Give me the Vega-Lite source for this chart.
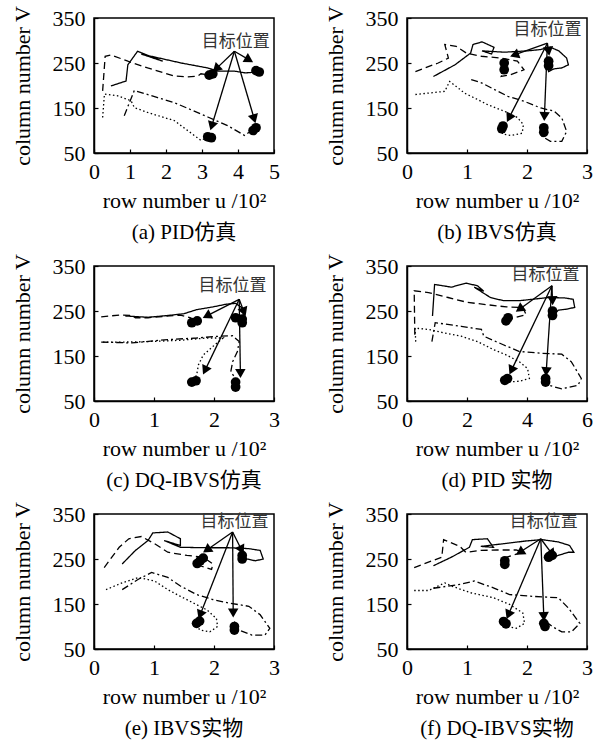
{
"$schema":"https://vega.github.io/schema/vega-lite/v6.json",
"background":"white",
"padding":{"left":10,"top":4,"right":0,"bottom":0},
"datasets":{
"traj":[
{"p":"a","s":"solid","i":0,"x":0.47,"y":199},{"p":"a","s":"solid","i":1,"x":0.89,"y":210},{"p":"a","s":"solid","i":2,"x":0.94,"y":246},{"p":"a","s":"solid","i":3,"x":1.21,"y":276},{"p":"a","s":"solid","i":4,"x":1.91,"y":254},{"p":"a","s":"solid","i":5,"x":1.31,"y":270},{"p":"a","s":"solid","i":6,"x":2.42,"y":250},{"p":"a","s":"solid","i":7,"x":3.16,"y":239},{"p":"a","s":"solid","i":8,"x":3.44,"y":232},{"p":"a","s":"solid","i":9,"x":3.9,"y":232},{"p":"a","s":"solid","i":10,"x":4.2,"y":228},{"p":"a","s":"solid","i":11,"x":4.55,"y":230},
{"p":"a","s":"dashed","i":0,"x":0.24,"y":188},{"p":"a","s":"dashed","i":1,"x":0.31,"y":265},{"p":"a","s":"dashed","i":2,"x":0.47,"y":268},{"p":"a","s":"dashed","i":3,"x":0.94,"y":254},{"p":"a","s":"dashed","i":4,"x":1.49,"y":239},{"p":"a","s":"dashed","i":5,"x":2.23,"y":221},{"p":"a","s":"dashed","i":6,"x":2.6,"y":219},{"p":"a","s":"dashed","i":7,"x":2.88,"y":221},{"p":"a","s":"dashed","i":8,"x":2.97,"y":226},{"p":"a","s":"dashed","i":9,"x":3.2,"y":223},
{"p":"a","s":"dashdot","i":0,"x":0.84,"y":133},{"p":"a","s":"dashdot","i":1,"x":1.12,"y":189},{"p":"a","s":"dashdot","i":2,"x":1.77,"y":173},{"p":"a","s":"dashdot","i":3,"x":2.23,"y":162},{"p":"a","s":"dashdot","i":4,"x":3.16,"y":130},{"p":"a","s":"dashdot","i":5,"x":3.71,"y":111},{"p":"a","s":"dashdot","i":6,"x":4.18,"y":89},{"p":"a","s":"dashdot","i":7,"x":4.45,"y":104},
{"p":"a","s":"dotted","i":0,"x":0.24,"y":129},{"p":"a","s":"dotted","i":1,"x":0.29,"y":181},{"p":"a","s":"dotted","i":2,"x":0.66,"y":177},{"p":"a","s":"dotted","i":3,"x":1.03,"y":166},{"p":"a","s":"dotted","i":4,"x":1.12,"y":151},{"p":"a","s":"dotted","i":5,"x":1.49,"y":140},{"p":"a","s":"dotted","i":6,"x":2.23,"y":122},{"p":"a","s":"dotted","i":7,"x":2.97,"y":78},{"p":"a","s":"dotted","i":8,"x":3.16,"y":85},

{"p":"b","s":"solid","i":0,"x":0.44,"y":220},{"p":"b","s":"solid","i":1,"x":0.8,"y":246},{"p":"b","s":"solid","i":2,"x":1.06,"y":272},{"p":"b","s":"solid","i":3,"x":1.1,"y":291},{"p":"b","s":"solid","i":4,"x":1.25,"y":297},{"p":"b","s":"solid","i":5,"x":1.45,"y":285},{"p":"b","s":"solid","i":6,"x":1.41,"y":270},{"p":"b","s":"solid","i":7,"x":1.25,"y":277},{"p":"b","s":"solid","i":8,"x":1.62,"y":274},{"p":"b","s":"solid","i":9,"x":2.01,"y":277},{"p":"b","s":"solid","i":10,"x":2.23,"y":280},{"p":"b","s":"solid","i":11,"x":2.39,"y":285},{"p":"b","s":"solid","i":12,"x":2.53,"y":277},{"p":"b","s":"solid","i":13,"x":2.66,"y":261},{"p":"b","s":"solid","i":14,"x":2.69,"y":246},{"p":"b","s":"solid","i":15,"x":2.58,"y":239},{"p":"b","s":"solid","i":16,"x":2.45,"y":237},{"p":"b","s":"solid","i":17,"x":2.36,"y":231},{"p":"b","s":"solid","i":18,"x":2.35,"y":246},
{"p":"b","s":"dashed","i":0,"x":0.14,"y":231},{"p":"b","s":"dashed","i":1,"x":0.52,"y":250},{"p":"b","s":"dashed","i":2,"x":0.69,"y":261},{"p":"b","s":"dashed","i":3,"x":0.63,"y":291},{"p":"b","s":"dashed","i":4,"x":0.82,"y":287},{"p":"b","s":"dashed","i":5,"x":0.99,"y":272},{"p":"b","s":"dashed","i":6,"x":1.24,"y":265},{"p":"b","s":"dashed","i":7,"x":1.57,"y":261},{"p":"b","s":"dashed","i":8,"x":1.84,"y":254},{"p":"b","s":"dashed","i":9,"x":1.95,"y":235},{"p":"b","s":"dashed","i":10,"x":1.73,"y":224},{"p":"b","s":"dashed","i":11,"x":1.57,"y":220},{"p":"b","s":"dashed","i":12,"x":1.62,"y":239},
{"p":"b","s":"dashdot","i":0,"x":1.07,"y":213},{"p":"b","s":"dashdot","i":1,"x":1.24,"y":206},{"p":"b","s":"dashdot","i":2,"x":1.46,"y":191},{"p":"b","s":"dashdot","i":3,"x":1.68,"y":176},{"p":"b","s":"dashdot","i":4,"x":1.95,"y":165},{"p":"b","s":"dashdot","i":5,"x":2.23,"y":150},{"p":"b","s":"dashdot","i":6,"x":2.45,"y":143},{"p":"b","s":"dashdot","i":7,"x":2.58,"y":128},{"p":"b","s":"dashdot","i":8,"x":2.66,"y":98},{"p":"b","s":"dashdot","i":9,"x":2.58,"y":76},{"p":"b","s":"dashdot","i":10,"x":2.39,"y":76},{"p":"b","s":"dashdot","i":11,"x":2.25,"y":87},{"p":"b","s":"dashdot","i":12,"x":2.28,"y":106},
{"p":"b","s":"dotted","i":0,"x":0.14,"y":180},{"p":"b","s":"dotted","i":1,"x":0.63,"y":187},{"p":"b","s":"dotted","i":2,"x":0.71,"y":209},{"p":"b","s":"dotted","i":3,"x":0.82,"y":198},{"p":"b","s":"dotted","i":4,"x":0.96,"y":183},{"p":"b","s":"dotted","i":5,"x":1.13,"y":172},{"p":"b","s":"dotted","i":6,"x":1.35,"y":157},{"p":"b","s":"dotted","i":7,"x":1.62,"y":143},{"p":"b","s":"dotted","i":8,"x":1.84,"y":129},{"p":"b","s":"dotted","i":9,"x":1.94,"y":113},{"p":"b","s":"dotted","i":10,"x":1.92,"y":94},{"p":"b","s":"dotted","i":11,"x":1.73,"y":89},{"p":"b","s":"dotted","i":12,"x":1.59,"y":92},{"p":"b","s":"dotted","i":13,"x":1.58,"y":104},

{"p":"c","s":"solid","i":0,"x":0.52,"y":239},{"p":"c","s":"solid","i":1,"x":0.9,"y":236},{"p":"c","s":"solid","i":2,"x":1.23,"y":240},{"p":"c","s":"solid","i":3,"x":1.5,"y":244},{"p":"c","s":"solid","i":4,"x":1.71,"y":253},{"p":"c","s":"solid","i":5,"x":1.98,"y":259},{"p":"c","s":"solid","i":6,"x":2.2,"y":265},{"p":"c","s":"solid","i":7,"x":2.36,"y":267},{"p":"c","s":"solid","i":8,"x":2.5,"y":254},{"p":"c","s":"solid","i":9,"x":2.47,"y":227},
{"p":"c","s":"dashed","i":0,"x":0.12,"y":237},{"p":"c","s":"dashed","i":1,"x":0.42,"y":241},{"p":"c","s":"dashed","i":2,"x":0.63,"y":240},{"p":"c","s":"dashed","i":3,"x":0.69,"y":235},{"p":"c","s":"dashed","i":4,"x":0.9,"y":235},{"p":"c","s":"dashed","i":5,"x":1.17,"y":238},{"p":"c","s":"dashed","i":6,"x":1.44,"y":241},{"p":"c","s":"dashed","i":7,"x":1.61,"y":235},{"p":"c","s":"dashed","i":8,"x":1.69,"y":224},
{"p":"c","s":"dashdot","i":0,"x":0.12,"y":181},{"p":"c","s":"dashdot","i":1,"x":0.36,"y":180},{"p":"c","s":"dashdot","i":2,"x":0.63,"y":179},{"p":"c","s":"dashdot","i":3,"x":1.17,"y":186},{"p":"c","s":"dashdot","i":4,"x":1.71,"y":190},{"p":"c","s":"dashdot","i":5,"x":2.09,"y":194},{"p":"c","s":"dashdot","i":6,"x":2.31,"y":195},{"p":"c","s":"dashdot","i":7,"x":2.42,"y":182},{"p":"c","s":"dashdot","i":8,"x":2.39,"y":160},{"p":"c","s":"dashdot","i":9,"x":2.31,"y":137},{"p":"c","s":"dashdot","i":10,"x":2.28,"y":115},{"p":"c","s":"dashdot","i":11,"x":2.36,"y":100},{"p":"c","s":"dashdot","i":12,"x":2.36,"y":81},
{"p":"c","s":"dotted","i":0,"x":0.15,"y":181},{"p":"c","s":"dotted","i":1,"x":0.52,"y":181},{"p":"c","s":"dotted","i":2,"x":0.9,"y":182},{"p":"c","s":"dotted","i":3,"x":1.44,"y":185},{"p":"c","s":"dotted","i":4,"x":1.88,"y":190},{"p":"c","s":"dotted","i":5,"x":2.15,"y":190},{"p":"c","s":"dotted","i":6,"x":1.98,"y":171},{"p":"c","s":"dotted","i":7,"x":1.82,"y":152},{"p":"c","s":"dotted","i":8,"x":1.74,"y":130},{"p":"c","s":"dotted","i":9,"x":1.71,"y":107},{"p":"c","s":"dotted","i":10,"x":1.61,"y":92},

{"p":"d","s":"solid","i":0,"x":0.85,"y":239},{"p":"d","s":"solid","i":1,"x":0.92,"y":309},{"p":"d","s":"solid","i":2,"x":1.48,"y":303},{"p":"d","s":"solid","i":3,"x":1.97,"y":312},{"p":"d","s":"solid","i":4,"x":2.35,"y":306},{"p":"d","s":"solid","i":5,"x":2.56,"y":294},{"p":"d","s":"solid","i":6,"x":2.24,"y":303},{"p":"d","s":"solid","i":7,"x":2.78,"y":280},{"p":"d","s":"solid","i":8,"x":3.21,"y":273},{"p":"d","s":"solid","i":9,"x":3.75,"y":273},{"p":"d","s":"solid","i":10,"x":4.18,"y":276},{"p":"d","s":"solid","i":11,"x":4.72,"y":280},{"p":"d","s":"solid","i":12,"x":5.26,"y":279},{"p":"d","s":"solid","i":13,"x":5.54,"y":276},{"p":"d","s":"solid","i":14,"x":5.59,"y":258},{"p":"d","s":"solid","i":15,"x":5.32,"y":254},{"p":"d","s":"solid","i":16,"x":5.05,"y":252},{"p":"d","s":"solid","i":17,"x":4.89,"y":242},
{"p":"d","s":"dashed","i":0,"x":0.26,"y":197},{"p":"d","s":"dashed","i":1,"x":0.24,"y":295},{"p":"d","s":"dashed","i":2,"x":0.72,"y":291},{"p":"d","s":"dashed","i":3,"x":1.37,"y":280},{"p":"d","s":"dashed","i":4,"x":2.02,"y":269},{"p":"d","s":"dashed","i":5,"x":2.67,"y":264},{"p":"d","s":"dashed","i":6,"x":3.32,"y":259},{"p":"d","s":"dashed","i":7,"x":3.86,"y":258},{"p":"d","s":"dashed","i":8,"x":3.97,"y":242},{"p":"d","s":"dashed","i":9,"x":3.37,"y":231},
{"p":"d","s":"dashdot","i":0,"x":0.83,"y":182},{"p":"d","s":"dashdot","i":1,"x":0.94,"y":224},{"p":"d","s":"dashdot","i":2,"x":1.81,"y":216},{"p":"d","s":"dashdot","i":3,"x":2.48,"y":209},{"p":"d","s":"dashdot","i":4,"x":2.56,"y":194},{"p":"d","s":"dashdot","i":5,"x":3.21,"y":175},{"p":"d","s":"dashdot","i":6,"x":3.75,"y":160},{"p":"d","s":"dashdot","i":7,"x":4.51,"y":156},{"p":"d","s":"dashdot","i":8,"x":5.16,"y":154},{"p":"d","s":"dashdot","i":9,"x":5.48,"y":137},{"p":"d","s":"dashdot","i":10,"x":5.81,"y":100},{"p":"d","s":"dashdot","i":11,"x":5.7,"y":85},{"p":"d","s":"dashdot","i":12,"x":5.16,"y":77},{"p":"d","s":"dashdot","i":13,"x":4.72,"y":85},{"p":"d","s":"dashdot","i":14,"x":4.62,"y":92},
{"p":"d","s":"dotted","i":0,"x":0.29,"y":182},{"p":"d","s":"dotted","i":1,"x":0.27,"y":212},{"p":"d","s":"dotted","i":2,"x":0.72,"y":209},{"p":"d","s":"dotted","i":3,"x":1.26,"y":201},{"p":"d","s":"dotted","i":4,"x":1.81,"y":194},{"p":"d","s":"dotted","i":5,"x":2.35,"y":182},{"p":"d","s":"dotted","i":6,"x":2.89,"y":164},{"p":"d","s":"dotted","i":7,"x":3.32,"y":152},{"p":"d","s":"dotted","i":8,"x":3.75,"y":137},{"p":"d","s":"dotted","i":9,"x":4.02,"y":122},{"p":"d","s":"dotted","i":10,"x":4.08,"y":100},{"p":"d","s":"dotted","i":11,"x":3.75,"y":94},{"p":"d","s":"dotted","i":12,"x":3.32,"y":92},{"p":"d","s":"dotted","i":13,"x":3.26,"y":96},

{"p":"e","s":"solid","i":0,"x":0.47,"y":239},{"p":"e","s":"solid","i":1,"x":0.69,"y":269},{"p":"e","s":"solid","i":2,"x":0.9,"y":291},{"p":"e","s":"solid","i":3,"x":0.98,"y":308},{"p":"e","s":"solid","i":4,"x":1.23,"y":310},{"p":"e","s":"solid","i":5,"x":1.44,"y":295},{"p":"e","s":"solid","i":6,"x":1.44,"y":280},{"p":"e","s":"solid","i":7,"x":1.17,"y":291},{"p":"e","s":"solid","i":8,"x":1.44,"y":276},{"p":"e","s":"solid","i":9,"x":1.88,"y":275},{"p":"e","s":"solid","i":10,"x":2.25,"y":275},{"p":"e","s":"solid","i":11,"x":2.58,"y":273},{"p":"e","s":"solid","i":12,"x":2.77,"y":269},{"p":"e","s":"solid","i":13,"x":2.82,"y":250},{"p":"e","s":"solid","i":14,"x":2.69,"y":246},{"p":"e","s":"solid","i":15,"x":2.55,"y":250},{"p":"e","s":"solid","i":16,"x":2.47,"y":246},
{"p":"e","s":"dashed","i":0,"x":0.17,"y":231},{"p":"e","s":"dashed","i":1,"x":0.42,"y":276},{"p":"e","s":"dashed","i":2,"x":0.58,"y":295},{"p":"e","s":"dashed","i":3,"x":0.79,"y":300},{"p":"e","s":"dashed","i":4,"x":1.01,"y":284},{"p":"e","s":"dashed","i":5,"x":1.23,"y":265},{"p":"e","s":"dashed","i":6,"x":1.55,"y":258},{"p":"e","s":"dashed","i":7,"x":1.82,"y":254},{"p":"e","s":"dashed","i":8,"x":1.98,"y":239},{"p":"e","s":"dashed","i":9,"x":1.96,"y":227},{"p":"e","s":"dashed","i":10,"x":1.77,"y":235},
{"p":"e","s":"dashdot","i":0,"x":0.47,"y":182},{"p":"e","s":"dashdot","i":1,"x":0.74,"y":205},{"p":"e","s":"dashdot","i":2,"x":0.96,"y":220},{"p":"e","s":"dashdot","i":3,"x":1.23,"y":209},{"p":"e","s":"dashdot","i":4,"x":1.44,"y":190},{"p":"e","s":"dashdot","i":5,"x":1.71,"y":171},{"p":"e","s":"dashdot","i":6,"x":1.98,"y":160},{"p":"e","s":"dashdot","i":7,"x":2.25,"y":152},{"p":"e","s":"dashdot","i":8,"x":2.58,"y":145},{"p":"e","s":"dashdot","i":9,"x":2.77,"y":126},{"p":"e","s":"dashdot","i":10,"x":2.93,"y":96},{"p":"e","s":"dashdot","i":11,"x":2.85,"y":81},{"p":"e","s":"dashdot","i":12,"x":2.63,"y":81},{"p":"e","s":"dashdot","i":13,"x":2.42,"y":92},{"p":"e","s":"dashdot","i":14,"x":2.34,"y":111},
{"p":"e","s":"dotted","i":0,"x":0.2,"y":182},{"p":"e","s":"dotted","i":1,"x":0.47,"y":197},{"p":"e","s":"dotted","i":2,"x":0.74,"y":209},{"p":"e","s":"dotted","i":3,"x":1.01,"y":201},{"p":"e","s":"dotted","i":4,"x":1.23,"y":182},{"p":"e","s":"dotted","i":5,"x":1.44,"y":167},{"p":"e","s":"dotted","i":6,"x":1.66,"y":152},{"p":"e","s":"dotted","i":7,"x":1.88,"y":137},{"p":"e","s":"dotted","i":8,"x":2.04,"y":118},{"p":"e","s":"dotted","i":9,"x":2.06,"y":100},{"p":"e","s":"dotted","i":10,"x":1.93,"y":88},{"p":"e","s":"dotted","i":11,"x":1.77,"y":92},{"p":"e","s":"dotted","i":12,"x":1.69,"y":103},

{"p":"f","s":"solid","i":0,"x":0.44,"y":235},{"p":"f","s":"solid","i":1,"x":0.74,"y":254},{"p":"f","s":"solid","i":2,"x":1.04,"y":276},{"p":"f","s":"solid","i":3,"x":1.09,"y":293},{"p":"f","s":"solid","i":4,"x":1.34,"y":295},{"p":"f","s":"solid","i":5,"x":1.44,"y":276},{"p":"f","s":"solid","i":6,"x":1.23,"y":278},{"p":"f","s":"solid","i":7,"x":1.61,"y":284},{"p":"f","s":"solid","i":8,"x":1.98,"y":290},{"p":"f","s":"solid","i":9,"x":2.25,"y":293},{"p":"f","s":"solid","i":10,"x":2.52,"y":288},{"p":"f","s":"solid","i":11,"x":2.71,"y":280},{"p":"f","s":"solid","i":12,"x":2.78,"y":265},{"p":"f","s":"solid","i":13,"x":2.69,"y":265},{"p":"f","s":"solid","i":14,"x":2.52,"y":258},{"p":"f","s":"solid","i":15,"x":2.39,"y":250},
{"p":"f","s":"dashed","i":0,"x":0.12,"y":231},{"p":"f","s":"dashed","i":1,"x":0.58,"y":254},{"p":"f","s":"dashed","i":2,"x":0.61,"y":293},{"p":"f","s":"dashed","i":3,"x":0.88,"y":278},{"p":"f","s":"dashed","i":4,"x":0.98,"y":265},{"p":"f","s":"dashed","i":5,"x":1.23,"y":269},{"p":"f","s":"dashed","i":6,"x":1.5,"y":270},{"p":"f","s":"dashed","i":7,"x":1.82,"y":270},{"p":"f","s":"dashed","i":8,"x":1.93,"y":265},{"p":"f","s":"dashed","i":9,"x":1.66,"y":254},
{"p":"f","s":"dashdot","i":0,"x":0.44,"y":185},{"p":"f","s":"dashdot","i":1,"x":0.9,"y":194},{"p":"f","s":"dashdot","i":2,"x":1.12,"y":201},{"p":"f","s":"dashdot","i":3,"x":1.44,"y":186},{"p":"f","s":"dashdot","i":4,"x":1.71,"y":171},{"p":"f","s":"dashdot","i":5,"x":2.09,"y":167},{"p":"f","s":"dashdot","i":6,"x":2.52,"y":164},{"p":"f","s":"dashdot","i":7,"x":2.69,"y":141},{"p":"f","s":"dashdot","i":8,"x":2.88,"y":107},{"p":"f","s":"dashdot","i":9,"x":2.74,"y":88},{"p":"f","s":"dashdot","i":10,"x":2.58,"y":88},{"p":"f","s":"dashdot","i":11,"x":2.42,"y":100},{"p":"f","s":"dashdot","i":12,"x":2.28,"y":115},
{"p":"f","s":"dotted","i":0,"x":0.12,"y":180},{"p":"f","s":"dotted","i":1,"x":0.36,"y":180},{"p":"f","s":"dotted","i":2,"x":0.63,"y":197},{"p":"f","s":"dotted","i":3,"x":0.74,"y":190},{"p":"f","s":"dotted","i":4,"x":1.06,"y":175},{"p":"f","s":"dotted","i":5,"x":1.44,"y":164},{"p":"f","s":"dotted","i":6,"x":1.71,"y":149},{"p":"f","s":"dotted","i":7,"x":1.93,"y":130},{"p":"f","s":"dotted","i":8,"x":1.96,"y":107},{"p":"f","s":"dotted","i":9,"x":1.82,"y":96},{"p":"f","s":"dotted","i":10,"x":1.66,"y":100},{"p":"f","s":"dotted","i":11,"x":1.61,"y":111}
],
"blob":[
{"p":"a","x":3.2,"y":223},{"p":"a","x":3.3,"y":226},{"p":"a","x":4.59,"y":230},{"p":"a","x":4.5,"y":233},{"p":"a","x":4.5,"y":106},{"p":"a","x":4.42,"y":100},{"p":"a","x":3.16,"y":86},{"p":"a","x":3.26,"y":84},
{"p":"b","x":1.62,"y":250},{"p":"b","x":1.62,"y":235},{"p":"b","x":2.36,"y":254},{"p":"b","x":2.36,"y":244},{"p":"b","x":1.58,"y":104},{"p":"b","x":1.6,"y":110},{"p":"b","x":2.28,"y":106},{"p":"b","x":2.28,"y":96},
{"p":"c","x":1.63,"y":224},{"p":"c","x":1.72,"y":228},{"p":"c","x":2.36,"y":235},{"p":"c","x":2.47,"y":224},{"p":"c","x":2.47,"y":232},{"p":"c","x":1.63,"y":92},{"p":"c","x":1.7,"y":95},{"p":"c","x":2.36,"y":81},{"p":"c","x":2.36,"y":92},
{"p":"d","x":3.37,"y":235},{"p":"d","x":3.3,"y":228},{"p":"d","x":4.85,"y":250},{"p":"d","x":4.85,"y":240},{"p":"d","x":3.26,"y":96},{"p":"d","x":3.35,"y":100},{"p":"d","x":4.62,"y":92},{"p":"d","x":4.62,"y":100},
{"p":"e","x":1.77,"y":246},{"p":"e","x":1.72,"y":240},{"p":"e","x":1.82,"y":252},{"p":"e","x":2.47,"y":258},{"p":"e","x":2.47,"y":250},{"p":"e","x":1.71,"y":107},{"p":"e","x":1.76,"y":112},{"p":"e","x":2.34,"y":100},{"p":"e","x":2.34,"y":92},
{"p":"f","x":1.63,"y":246},{"p":"f","x":1.63,"y":238},{"p":"f","x":2.36,"y":254},{"p":"f","x":2.42,"y":258},{"p":"f","x":1.61,"y":111},{"p":"f","x":1.65,"y":106},{"p":"f","x":2.28,"y":107},{"p":"f","x":2.3,"y":100}
],
"arrow":[
{"p":"a","x0":3.9,"y0":276,"x":3.39,"y":237},{"p":"a","x0":3.9,"y0":276,"x":4.31,"y":257},{"p":"a","x0":3.9,"y0":276,"x":3.27,"y":110},{"p":"a","x0":3.9,"y0":276,"x":4.45,"y":126},
{"p":"b","x0":2.34,"y0":294,"x":1.79,"y":268},{"p":"b","x0":2.34,"y0":294,"x":2.36,"y":276},{"p":"b","x0":2.34,"y0":294,"x":1.7,"y":128},{"p":"b","x0":2.34,"y0":294,"x":2.29,"y":131},
{"p":"c","x0":2.42,"y0":276,"x":1.88,"y":239},{"p":"c","x0":2.42,"y0":276,"x":2.5,"y":248},{"p":"c","x0":2.42,"y0":276,"x":1.85,"y":118},{"p":"c","x0":2.42,"y0":276,"x":2.44,"y":111},
{"p":"d","x0":4.83,"y0":306,"x":3.75,"y":254},{"p":"d","x0":4.83,"y0":306,"x":4.85,"y":273},{"p":"d","x0":4.83,"y0":306,"x":3.48,"y":118},{"p":"d","x0":4.83,"y0":306,"x":4.64,"y":115},
{"p":"e","x0":2.31,"y0":310,"x":1.88,"y":270},{"p":"e","x0":2.31,"y0":310,"x":2.46,"y":270},{"p":"e","x0":2.31,"y0":310,"x":1.77,"y":126},{"p":"e","x0":2.31,"y0":310,"x":2.32,"y":130},
{"p":"f","x0":2.23,"y0":295,"x":1.88,"y":265},{"p":"f","x0":2.23,"y0":295,"x":2.42,"y":261},{"p":"f","x0":2.23,"y0":295,"x":1.69,"y":126},{"p":"f","x0":2.23,"y0":295,"x":2.28,"y":122}
],
"lbl":[
{"p":"a","x":3.94,"y":297,"t":"目标位置"},{"p":"b","x":2.34,"y":324,"t":"目标位置"},{"p":"c","x":2.31,"y":306,"t":"目标位置"},{"p":"d","x":4.62,"y":331,"t":"目标位置"},{"p":"e","x":2.34,"y":333,"t":"目标位置"},{"p":"f","x":2.28,"y":333,"t":"目标位置"}
]
},
"spacing":8,
"vconcat":[
{"spacing":42,"hconcat":[
{"width":180,"height":135,"title":"(a)  PID仿真",
"encoding":{"x":{"field":"x","type":"quantitative","scale":{"domain":[0,5],"nice":false,"zero":false},"axis":{"values":[0,1,2,3,4,5],"title":"row number u /10²"}},"y":{"field":"y","type":"quantitative","scale":{"domain":[50,350],"nice":false,"zero":false},"axis":{"values":[50,150,250,350],"title":"column number V"}}},
"layer":[
{"data":{"name":"traj"},"transform":[{"filter":"datum.p==='a'"}],"mark":{"type":"line","color":"black","strokeWidth":1.3},"encoding":{"detail":{"field":"s"},"order":{"field":"i","type":"quantitative"},"strokeDash":{"field":"s","type":"nominal","scale":{"domain":["solid","dashed","dashdot","dotted"],"range":[[1,0],[7,4],[7,3,2,3],[1.5,2.5]]},"legend":null}}},
{"data":{"name":"blob"},"transform":[{"filter":"datum.p==='a'"}],"mark":{"type":"point","shape":"circle","filled":true,"color":"black","opacity":1,"size":95}},
{"data":{"name":"arrow"},"transform":[{"filter":"datum.p==='a'"}],"mark":{"type":"rule","color":"black","strokeWidth":1.3},"encoding":{"x2":{"field":"x0"},"y2":{"field":"y0"}}},
{"data":{"name":"arrow"},"transform":[{"filter":"datum.p==='a'"},{"calculate":"atan2((datum.x-datum.x0)*36,(datum.y-datum.y0)*0.45)*180/PI","as":"ang"}],"mark":{"type":"point","shape":"triangle-up","filled":true,"color":"black","opacity":1,"size":110},"encoding":{"angle":{"field":"ang","type":"quantitative","scale":null}}},
{"data":{"name":"lbl"},"transform":[{"filter":"datum.p==='a'"}],"mark":{"type":"text","font":"Noto Sans CJK SC","fontSize":17,"color":"#333"},"encoding":{"text":{"field":"t"}}}
]},
{"width":180,"height":135,"title":"(b)  IBVS仿真",
"encoding":{"x":{"field":"x","type":"quantitative","scale":{"domain":[0,3],"nice":false,"zero":false},"axis":{"values":[0,1,2,3],"title":"row number u /10²"}},"y":{"field":"y","type":"quantitative","scale":{"domain":[50,350],"nice":false,"zero":false},"axis":{"values":[50,150,250,350],"title":"column number V"}}},
"layer":[
{"data":{"name":"traj"},"transform":[{"filter":"datum.p==='b'"}],"mark":{"type":"line","color":"black","strokeWidth":1.3},"encoding":{"detail":{"field":"s"},"order":{"field":"i","type":"quantitative"},"strokeDash":{"field":"s","type":"nominal","scale":{"domain":["solid","dashed","dashdot","dotted"],"range":[[1,0],[7,4],[7,3,2,3],[1.5,2.5]]},"legend":null}}},
{"data":{"name":"blob"},"transform":[{"filter":"datum.p==='b'"}],"mark":{"type":"point","shape":"circle","filled":true,"color":"black","opacity":1,"size":95}},
{"data":{"name":"arrow"},"transform":[{"filter":"datum.p==='b'"}],"mark":{"type":"rule","color":"black","strokeWidth":1.3},"encoding":{"x2":{"field":"x0"},"y2":{"field":"y0"}}},
{"data":{"name":"arrow"},"transform":[{"filter":"datum.p==='b'"},{"calculate":"atan2((datum.x-datum.x0)*60,(datum.y-datum.y0)*0.45)*180/PI","as":"ang"}],"mark":{"type":"point","shape":"triangle-up","filled":true,"color":"black","opacity":1,"size":110},"encoding":{"angle":{"field":"ang","type":"quantitative","scale":null}}},
{"data":{"name":"lbl"},"transform":[{"filter":"datum.p==='b'"}],"mark":{"type":"text","font":"Noto Sans CJK SC","fontSize":17,"color":"#333"},"encoding":{"text":{"field":"t"}}}
]}
]},
{"spacing":42,"hconcat":[
{"width":180,"height":135,"title":"(c)  DQ-IBVS仿真",
"encoding":{"x":{"field":"x","type":"quantitative","scale":{"domain":[0,3],"nice":false,"zero":false},"axis":{"values":[0,1,2,3],"title":"row number u /10²"}},"y":{"field":"y","type":"quantitative","scale":{"domain":[50,350],"nice":false,"zero":false},"axis":{"values":[50,150,250,350],"title":"column number V"}}},
"layer":[
{"data":{"name":"traj"},"transform":[{"filter":"datum.p==='c'"}],"mark":{"type":"line","color":"black","strokeWidth":1.3},"encoding":{"detail":{"field":"s"},"order":{"field":"i","type":"quantitative"},"strokeDash":{"field":"s","type":"nominal","scale":{"domain":["solid","dashed","dashdot","dotted"],"range":[[1,0],[7,4],[7,3,2,3],[1.5,2.5]]},"legend":null}}},
{"data":{"name":"blob"},"transform":[{"filter":"datum.p==='c'"}],"mark":{"type":"point","shape":"circle","filled":true,"color":"black","opacity":1,"size":95}},
{"data":{"name":"arrow"},"transform":[{"filter":"datum.p==='c'"}],"mark":{"type":"rule","color":"black","strokeWidth":1.3},"encoding":{"x2":{"field":"x0"},"y2":{"field":"y0"}}},
{"data":{"name":"arrow"},"transform":[{"filter":"datum.p==='c'"},{"calculate":"atan2((datum.x-datum.x0)*60,(datum.y-datum.y0)*0.45)*180/PI","as":"ang"}],"mark":{"type":"point","shape":"triangle-up","filled":true,"color":"black","opacity":1,"size":110},"encoding":{"angle":{"field":"ang","type":"quantitative","scale":null}}},
{"data":{"name":"lbl"},"transform":[{"filter":"datum.p==='c'"}],"mark":{"type":"text","font":"Noto Sans CJK SC","fontSize":17,"color":"#333"},"encoding":{"text":{"field":"t"}}}
]},
{"width":180,"height":135,"title":"(d)  PID 实物",
"encoding":{"x":{"field":"x","type":"quantitative","scale":{"domain":[0,6],"nice":false,"zero":false},"axis":{"values":[0,2,4,6],"title":"row number u /10²"}},"y":{"field":"y","type":"quantitative","scale":{"domain":[50,350],"nice":false,"zero":false},"axis":{"values":[50,150,250,350],"title":"column number V"}}},
"layer":[
{"data":{"name":"traj"},"transform":[{"filter":"datum.p==='d'"}],"mark":{"type":"line","color":"black","strokeWidth":1.3},"encoding":{"detail":{"field":"s"},"order":{"field":"i","type":"quantitative"},"strokeDash":{"field":"s","type":"nominal","scale":{"domain":["solid","dashed","dashdot","dotted"],"range":[[1,0],[7,4],[7,3,2,3],[1.5,2.5]]},"legend":null}}},
{"data":{"name":"blob"},"transform":[{"filter":"datum.p==='d'"}],"mark":{"type":"point","shape":"circle","filled":true,"color":"black","opacity":1,"size":95}},
{"data":{"name":"arrow"},"transform":[{"filter":"datum.p==='d'"}],"mark":{"type":"rule","color":"black","strokeWidth":1.3},"encoding":{"x2":{"field":"x0"},"y2":{"field":"y0"}}},
{"data":{"name":"arrow"},"transform":[{"filter":"datum.p==='d'"},{"calculate":"atan2((datum.x-datum.x0)*30,(datum.y-datum.y0)*0.45)*180/PI","as":"ang"}],"mark":{"type":"point","shape":"triangle-up","filled":true,"color":"black","opacity":1,"size":110},"encoding":{"angle":{"field":"ang","type":"quantitative","scale":null}}},
{"data":{"name":"lbl"},"transform":[{"filter":"datum.p==='d'"}],"mark":{"type":"text","font":"Noto Sans CJK SC","fontSize":17,"color":"#333"},"encoding":{"text":{"field":"t"}}}
]}
]},
{"spacing":42,"hconcat":[
{"width":180,"height":135,"title":"(e)  IBVS实物",
"encoding":{"x":{"field":"x","type":"quantitative","scale":{"domain":[0,3],"nice":false,"zero":false},"axis":{"values":[0,1,2,3],"title":"row number u /10²"}},"y":{"field":"y","type":"quantitative","scale":{"domain":[50,350],"nice":false,"zero":false},"axis":{"values":[50,150,250,350],"title":"column number V"}}},
"layer":[
{"data":{"name":"traj"},"transform":[{"filter":"datum.p==='e'"}],"mark":{"type":"line","color":"black","strokeWidth":1.3},"encoding":{"detail":{"field":"s"},"order":{"field":"i","type":"quantitative"},"strokeDash":{"field":"s","type":"nominal","scale":{"domain":["solid","dashed","dashdot","dotted"],"range":[[1,0],[7,4],[7,3,2,3],[1.5,2.5]]},"legend":null}}},
{"data":{"name":"blob"},"transform":[{"filter":"datum.p==='e'"}],"mark":{"type":"point","shape":"circle","filled":true,"color":"black","opacity":1,"size":95}},
{"data":{"name":"arrow"},"transform":[{"filter":"datum.p==='e'"}],"mark":{"type":"rule","color":"black","strokeWidth":1.3},"encoding":{"x2":{"field":"x0"},"y2":{"field":"y0"}}},
{"data":{"name":"arrow"},"transform":[{"filter":"datum.p==='e'"},{"calculate":"atan2((datum.x-datum.x0)*60,(datum.y-datum.y0)*0.45)*180/PI","as":"ang"}],"mark":{"type":"point","shape":"triangle-up","filled":true,"color":"black","opacity":1,"size":110},"encoding":{"angle":{"field":"ang","type":"quantitative","scale":null}}},
{"data":{"name":"lbl"},"transform":[{"filter":"datum.p==='e'"}],"mark":{"type":"text","font":"Noto Sans CJK SC","fontSize":17,"color":"#333"},"encoding":{"text":{"field":"t"}}}
]},
{"width":180,"height":135,"title":"(f)  DQ-IBVS实物",
"encoding":{"x":{"field":"x","type":"quantitative","scale":{"domain":[0,3],"nice":false,"zero":false},"axis":{"values":[0,1,2,3],"title":"row number u /10²"}},"y":{"field":"y","type":"quantitative","scale":{"domain":[50,350],"nice":false,"zero":false},"axis":{"values":[50,150,250,350],"title":"column number V"}}},
"layer":[
{"data":{"name":"traj"},"transform":[{"filter":"datum.p==='f'"}],"mark":{"type":"line","color":"black","strokeWidth":1.3},"encoding":{"detail":{"field":"s"},"order":{"field":"i","type":"quantitative"},"strokeDash":{"field":"s","type":"nominal","scale":{"domain":["solid","dashed","dashdot","dotted"],"range":[[1,0],[7,4],[7,3,2,3],[1.5,2.5]]},"legend":null}}},
{"data":{"name":"blob"},"transform":[{"filter":"datum.p==='f'"}],"mark":{"type":"point","shape":"circle","filled":true,"color":"black","opacity":1,"size":95}},
{"data":{"name":"arrow"},"transform":[{"filter":"datum.p==='f'"}],"mark":{"type":"rule","color":"black","strokeWidth":1.3},"encoding":{"x2":{"field":"x0"},"y2":{"field":"y0"}}},
{"data":{"name":"arrow"},"transform":[{"filter":"datum.p==='f'"},{"calculate":"atan2((datum.x-datum.x0)*60,(datum.y-datum.y0)*0.45)*180/PI","as":"ang"}],"mark":{"type":"point","shape":"triangle-up","filled":true,"color":"black","opacity":1,"size":110},"encoding":{"angle":{"field":"ang","type":"quantitative","scale":null}}},
{"data":{"name":"lbl"},"transform":[{"filter":"datum.p==='f'"}],"mark":{"type":"text","font":"Noto Sans CJK SC","fontSize":17,"color":"#333"},"encoding":{"text":{"field":"t"}}}
]}
]}
],
"config":{
"view":{"stroke":"black","strokeWidth":1.5},
"font":"Liberation Serif",
"axis":{"grid":false,"domainColor":"black","domainWidth":1.5,"tickColor":"black","tickSize":-4,"tickWidth":1.2,"labelFont":"Liberation Serif","labelFontSize":22,"labelColor":"black","labelFlush":false,"labelOverlap":false,"titleFont":"Liberation Serif","titleFontSize":22,"titleFontWeight":"normal","titleColor":"black"},
"axisX":{"labelPadding":12,"titlePadding":8},
"axisY":{"labelPadding":13,"titlePadding":18},
"title":{"font":"Liberation Serif, Noto Sans CJK SC","fontSize":21,"fontWeight":"normal","color":"black","orient":"bottom","anchor":"middle","offset":11}
}
}
